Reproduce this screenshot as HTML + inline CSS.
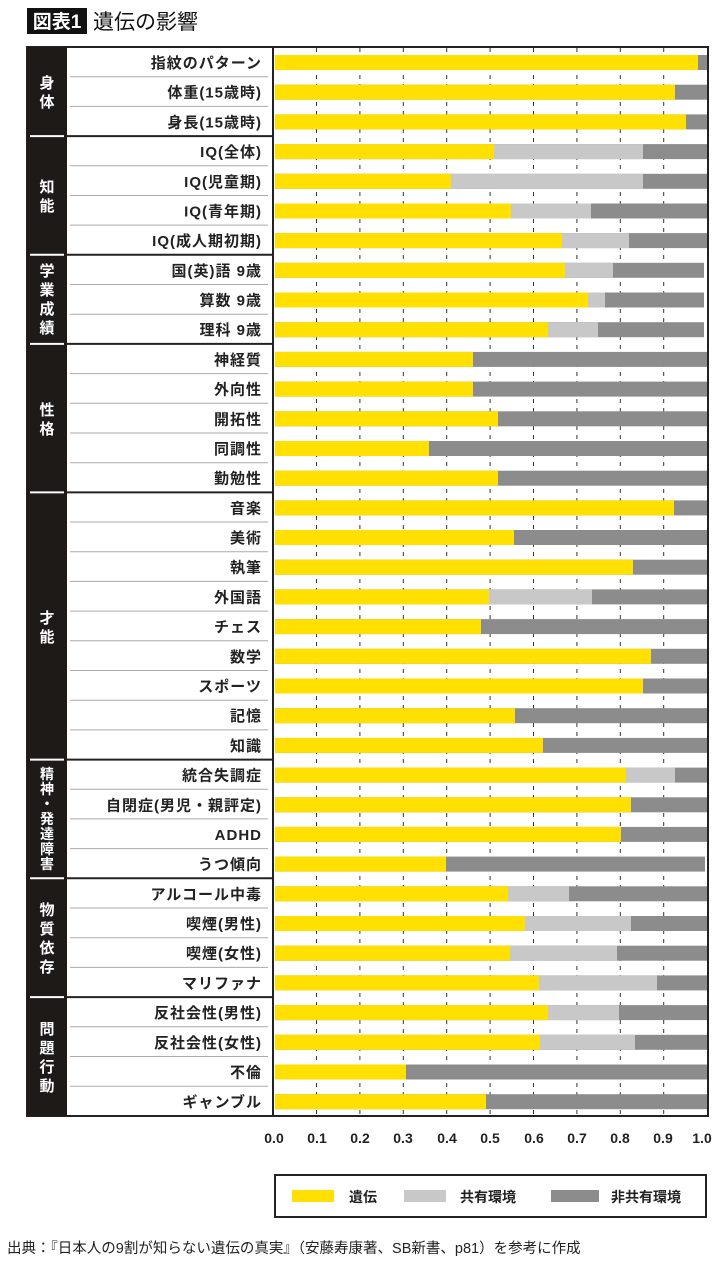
<!DOCTYPE html>
<html><head><meta charset="utf-8"><style>
body{margin:0;background:#fff;width:720px;height:1262px;overflow:hidden}
svg{display:block}
text{font-family:"Liberation Sans","Noto Sans CJK JP",sans-serif}
.l{font-size:15px;fill:#222;text-anchor:end;font-weight:bold;letter-spacing:1px}
.c{font-size:15px;fill:#fff;text-anchor:middle;font-weight:bold}
.c2{font-size:14px;fill:#fff;text-anchor:middle;font-weight:bold}
.t{font-size:14px;fill:#222;text-anchor:middle;font-weight:bold}
</style></head><body>
<svg width="720" height="1262" viewBox="0 0 720 1262">
<rect x="27" y="8" width="60" height="26" fill="#111"/>
<text x="57" y="28" font-size="19" font-weight="bold" fill="#fff" text-anchor="middle">図表1</text>
<text x="93" y="29" font-size="21" fill="#111">遺伝の影響</text>
<rect x="27" y="47" width="681" height="1069" fill="#fff" stroke="#222" stroke-width="2"/>
<rect x="27" y="47" width="40" height="1069" fill="#1e1a18"/>
<line x1="273" y1="47" x2="273" y2="1116" stroke="#222" stroke-width="2"/>
<g stroke="#333" stroke-width="1" stroke-dasharray="4,5">
<line x1="316.5" y1="48" x2="316.5" y2="1115"/><line x1="359.9" y1="48" x2="359.9" y2="1115"/><line x1="403.3" y1="48" x2="403.3" y2="1115"/><line x1="446.7" y1="48" x2="446.7" y2="1115"/><line x1="490.1" y1="48" x2="490.1" y2="1115"/><line x1="533.5" y1="48" x2="533.5" y2="1115"/><line x1="576.9" y1="48" x2="576.9" y2="1115"/><line x1="620.3" y1="48" x2="620.3" y2="1115"/><line x1="663.7" y1="48" x2="663.7" y2="1115"/>
</g>
<g stroke="#aaa" stroke-width="1">
<line x1="70" y1="76.7" x2="268" y2="76.7"/><line x1="70" y1="106.4" x2="268" y2="106.4"/>
<line x1="70" y1="165.8" x2="268" y2="165.8"/><line x1="70" y1="195.5" x2="268" y2="195.5"/><line x1="70" y1="225.1" x2="268" y2="225.1"/>
<line x1="70" y1="284.5" x2="268" y2="284.5"/><line x1="70" y1="314.2" x2="268" y2="314.2"/>
<line x1="70" y1="373.6" x2="268" y2="373.6"/><line x1="70" y1="403.3" x2="268" y2="403.3"/><line x1="70" y1="433" x2="268" y2="433"/><line x1="70" y1="462.7" x2="268" y2="462.7"/>
<line x1="70" y1="522" x2="268" y2="522"/><line x1="70" y1="551.7" x2="268" y2="551.7"/><line x1="70" y1="581.4" x2="268" y2="581.4"/><line x1="70" y1="611.1" x2="268" y2="611.1"/><line x1="70" y1="640.8" x2="268" y2="640.8"/><line x1="70" y1="670.5" x2="268" y2="670.5"/><line x1="70" y1="700.2" x2="268" y2="700.2"/><line x1="70" y1="729.9" x2="268" y2="729.9"/>
<line x1="70" y1="789.3" x2="268" y2="789.3"/><line x1="70" y1="818.9" x2="268" y2="818.9"/><line x1="70" y1="848.6" x2="268" y2="848.6"/>
<line x1="70" y1="908" x2="268" y2="908"/><line x1="70" y1="937.7" x2="268" y2="937.7"/><line x1="70" y1="967.4" x2="268" y2="967.4"/>
<line x1="70" y1="1026.8" x2="268" y2="1026.8"/><line x1="70" y1="1056.5" x2="268" y2="1056.5"/><line x1="70" y1="1086.2" x2="268" y2="1086.2"/>
</g>
<g stroke-width="2">
<line x1="30" y1="136.1" x2="64" y2="136.1" stroke="#fff"/><line x1="67" y1="136.1" x2="273" y2="136.1" stroke="#222"/>
<line x1="30" y1="254.8" x2="64" y2="254.8" stroke="#fff"/><line x1="67" y1="254.8" x2="273" y2="254.8" stroke="#222"/>
<line x1="30" y1="343.9" x2="64" y2="343.9" stroke="#fff"/><line x1="67" y1="343.9" x2="273" y2="343.9" stroke="#222"/>
<line x1="30" y1="492.4" x2="64" y2="492.4" stroke="#fff"/><line x1="67" y1="492.4" x2="273" y2="492.4" stroke="#222"/>
<line x1="30" y1="759.6" x2="64" y2="759.6" stroke="#fff"/><line x1="67" y1="759.6" x2="273" y2="759.6" stroke="#222"/>
<line x1="30" y1="878.3" x2="64" y2="878.3" stroke="#fff"/><line x1="67" y1="878.3" x2="273" y2="878.3" stroke="#222"/>
<line x1="30" y1="997.1" x2="64" y2="997.1" stroke="#fff"/><line x1="67" y1="997.1" x2="273" y2="997.1" stroke="#222"/>
</g>
<text class="c" x="47" y="88">身</text><text class="c" x="47" y="107">体</text>
<text class="c" x="47" y="192">知</text><text class="c" x="47" y="211">能</text>
<text class="c" x="47" y="276">学</text><text class="c" x="47" y="295">業</text><text class="c" x="47" y="314">成</text><text class="c" x="47" y="333">績</text>
<text class="c" x="47" y="415">性</text><text class="c" x="47" y="434">格</text>
<text class="c" x="47" y="623">才</text><text class="c" x="47" y="642">能</text>
<text class="c2" x="47" y="779">精</text><text class="c2" x="47" y="794">神</text><text class="c2" x="47" y="809">・</text><text class="c2" x="47" y="824">発</text><text class="c2" x="47" y="839">達</text><text class="c2" x="47" y="854">障</text><text class="c2" x="47" y="869">害</text>
<text class="c" x="47" y="915">物</text><text class="c" x="47" y="934">質</text><text class="c" x="47" y="953">依</text><text class="c" x="47" y="972">存</text>
<text class="c" x="47" y="1034">問</text><text class="c" x="47" y="1053">題</text><text class="c" x="47" y="1072">行</text><text class="c" x="47" y="1091">動</text>
<g>
<g transform="translate(0,47)"><text class="l" x="262" y="21">指紋のパターン</text><rect x="275" y="8" width="432" height="15" fill="#8c8c8c"/><rect x="275" y="8" width="423" height="15" fill="#FFE000"/></g>
<g transform="translate(0,76.7)"><text class="l" x="262" y="21">体重(15歳時)</text><rect x="275" y="8" width="432" height="15" fill="#8c8c8c"/><rect x="275" y="8" width="400" height="15" fill="#FFE000"/></g>
<g transform="translate(0,106.4)"><text class="l" x="262" y="21">身長(15歳時)</text><rect x="275" y="8" width="432" height="15" fill="#8c8c8c"/><rect x="275" y="8" width="411" height="15" fill="#FFE000"/></g>
<g transform="translate(0,136.1)"><text class="l" x="262" y="21">IQ(全体)</text><rect x="275" y="8" width="432" height="15" fill="#8c8c8c"/><rect x="275" y="8" width="368" height="15" fill="#c8c8c8"/><rect x="275" y="8" width="219" height="15" fill="#FFE000"/></g>
<g transform="translate(0,165.8)"><text class="l" x="262" y="21">IQ(児童期)</text><rect x="275" y="8" width="432" height="15" fill="#8c8c8c"/><rect x="275" y="8" width="368" height="15" fill="#c8c8c8"/><rect x="275" y="8" width="176" height="15" fill="#FFE000"/></g>
<g transform="translate(0,195.5)"><text class="l" x="262" y="21">IQ(青年期)</text><rect x="275" y="8" width="432" height="15" fill="#8c8c8c"/><rect x="275" y="8" width="316" height="15" fill="#c8c8c8"/><rect x="275" y="8" width="236" height="15" fill="#FFE000"/></g>
<g transform="translate(0,225.1)"><text class="l" x="262" y="21">IQ(成人期初期)</text><rect x="275" y="8" width="432" height="15" fill="#8c8c8c"/><rect x="275" y="8" width="354" height="15" fill="#c8c8c8"/><rect x="275" y="8" width="287" height="15" fill="#FFE000"/></g>
<g transform="translate(0,254.8)"><text class="l" x="262" y="21">国(英)語 9歳</text><rect x="275" y="8" width="429" height="15" fill="#8c8c8c"/><rect x="275" y="8" width="338" height="15" fill="#c8c8c8"/><rect x="275" y="8" width="290" height="15" fill="#FFE000"/></g>
<g transform="translate(0,284.5)"><text class="l" x="262" y="21">算数 9歳</text><rect x="275" y="8" width="429" height="15" fill="#8c8c8c"/><rect x="275" y="8" width="330" height="15" fill="#c8c8c8"/><rect x="275" y="8" width="313" height="15" fill="#FFE000"/></g>
<g transform="translate(0,314.2)"><text class="l" x="262" y="21">理科 9歳</text><rect x="275" y="8" width="429" height="15" fill="#8c8c8c"/><rect x="275" y="8" width="323" height="15" fill="#c8c8c8"/><rect x="275" y="8" width="273" height="15" fill="#FFE000"/></g>
<g transform="translate(0,343.9)"><text class="l" x="262" y="21">神経質</text><rect x="275" y="8" width="432" height="15" fill="#8c8c8c"/><rect x="275" y="8" width="198" height="15" fill="#FFE000"/></g>
<g transform="translate(0,373.6)"><text class="l" x="262" y="21">外向性</text><rect x="275" y="8" width="432" height="15" fill="#8c8c8c"/><rect x="275" y="8" width="198" height="15" fill="#FFE000"/></g>
<g transform="translate(0,403.3)"><text class="l" x="262" y="21">開拓性</text><rect x="275" y="8" width="432" height="15" fill="#8c8c8c"/><rect x="275" y="8" width="223" height="15" fill="#FFE000"/></g>
<g transform="translate(0,433)"><text class="l" x="262" y="21">同調性</text><rect x="275" y="8" width="432" height="15" fill="#8c8c8c"/><rect x="275" y="8" width="154" height="15" fill="#FFE000"/></g>
<g transform="translate(0,462.7)"><text class="l" x="262" y="21">勤勉性</text><rect x="275" y="8" width="432" height="15" fill="#8c8c8c"/><rect x="275" y="8" width="223" height="15" fill="#FFE000"/></g>
<g transform="translate(0,492.4)"><text class="l" x="262" y="21">音楽</text><rect x="275" y="8" width="432" height="15" fill="#8c8c8c"/><rect x="275" y="8" width="399" height="15" fill="#FFE000"/></g>
<g transform="translate(0,522)"><text class="l" x="262" y="21">美術</text><rect x="275" y="8" width="432" height="15" fill="#8c8c8c"/><rect x="275" y="8" width="239" height="15" fill="#FFE000"/></g>
<g transform="translate(0,551.7)"><text class="l" x="262" y="21">執筆</text><rect x="275" y="8" width="432" height="15" fill="#8c8c8c"/><rect x="275" y="8" width="358" height="15" fill="#FFE000"/></g>
<g transform="translate(0,581.4)"><text class="l" x="262" y="21">外国語</text><rect x="275" y="8" width="432" height="15" fill="#8c8c8c"/><rect x="275" y="8" width="317" height="15" fill="#c8c8c8"/><rect x="275" y="8" width="214" height="15" fill="#FFE000"/></g>
<g transform="translate(0,611.1)"><text class="l" x="262" y="21">チェス</text><rect x="275" y="8" width="432" height="15" fill="#8c8c8c"/><rect x="275" y="8" width="206" height="15" fill="#FFE000"/></g>
<g transform="translate(0,640.8)"><text class="l" x="262" y="21">数学</text><rect x="275" y="8" width="432" height="15" fill="#8c8c8c"/><rect x="275" y="8" width="376" height="15" fill="#FFE000"/></g>
<g transform="translate(0,670.5)"><text class="l" x="262" y="21">スポーツ</text><rect x="275" y="8" width="432" height="15" fill="#8c8c8c"/><rect x="275" y="8" width="368" height="15" fill="#FFE000"/></g>
<g transform="translate(0,700.2)"><text class="l" x="262" y="21">記憶</text><rect x="275" y="8" width="432" height="15" fill="#8c8c8c"/><rect x="275" y="8" width="240" height="15" fill="#FFE000"/></g>
<g transform="translate(0,729.9)"><text class="l" x="262" y="21">知識</text><rect x="275" y="8" width="432" height="15" fill="#8c8c8c"/><rect x="275" y="8" width="268" height="15" fill="#FFE000"/></g>
<g transform="translate(0,759.6)"><text class="l" x="262" y="21">統合失調症</text><rect x="275" y="8" width="432" height="15" fill="#8c8c8c"/><rect x="275" y="8" width="400" height="15" fill="#c8c8c8"/><rect x="275" y="8" width="351" height="15" fill="#FFE000"/></g>
<g transform="translate(0,789.3)"><text class="l" x="262" y="21">自閉症(男児・親評定)</text><rect x="275" y="8" width="432" height="15" fill="#8c8c8c"/><rect x="275" y="8" width="356" height="15" fill="#FFE000"/></g>
<g transform="translate(0,818.9)"><text class="l" x="262" y="21">ADHD</text><rect x="275" y="8" width="432" height="15" fill="#8c8c8c"/><rect x="275" y="8" width="346" height="15" fill="#FFE000"/></g>
<g transform="translate(0,848.6)"><text class="l" x="262" y="21">うつ傾向</text><rect x="275" y="8" width="430" height="15" fill="#8c8c8c"/><rect x="275" y="8" width="171" height="15" fill="#FFE000"/></g>
<g transform="translate(0,878.3)"><text class="l" x="262" y="21">アルコール中毒</text><rect x="275" y="8" width="432" height="15" fill="#8c8c8c"/><rect x="275" y="8" width="294" height="15" fill="#c8c8c8"/><rect x="275" y="8" width="233" height="15" fill="#FFE000"/></g>
<g transform="translate(0,908)"><text class="l" x="262" y="21">喫煙(男性)</text><rect x="275" y="8" width="432" height="15" fill="#8c8c8c"/><rect x="275" y="8" width="356" height="15" fill="#c8c8c8"/><rect x="275" y="8" width="250" height="15" fill="#FFE000"/></g>
<g transform="translate(0,937.7)"><text class="l" x="262" y="21">喫煙(女性)</text><rect x="275" y="8" width="432" height="15" fill="#8c8c8c"/><rect x="275" y="8" width="342" height="15" fill="#c8c8c8"/><rect x="275" y="8" width="235" height="15" fill="#FFE000"/></g>
<g transform="translate(0,967.4)"><text class="l" x="262" y="21">マリファナ</text><rect x="275" y="8" width="432" height="15" fill="#8c8c8c"/><rect x="275" y="8" width="382" height="15" fill="#c8c8c8"/><rect x="275" y="8" width="264" height="15" fill="#FFE000"/></g>
<g transform="translate(0,997.1)"><text class="l" x="262" y="21">反社会性(男性)</text><rect x="275" y="8" width="432" height="15" fill="#8c8c8c"/><rect x="275" y="8" width="344" height="15" fill="#c8c8c8"/><rect x="275" y="8" width="273" height="15" fill="#FFE000"/></g>
<g transform="translate(0,1026.8)"><text class="l" x="262" y="21">反社会性(女性)</text><rect x="275" y="8" width="432" height="15" fill="#8c8c8c"/><rect x="275" y="8" width="360" height="15" fill="#c8c8c8"/><rect x="275" y="8" width="265" height="15" fill="#FFE000"/></g>
<g transform="translate(0,1056.5)"><text class="l" x="262" y="21">不倫</text><rect x="275" y="8" width="432" height="15" fill="#8c8c8c"/><rect x="275" y="8" width="131" height="15" fill="#FFE000"/></g>
<g transform="translate(0,1086.2)"><text class="l" x="262" y="21">ギャンブル</text><rect x="275" y="8" width="432" height="15" fill="#8c8c8c"/><rect x="275" y="8" width="211" height="15" fill="#FFE000"/></g>
</g>
<g>
<text class="t" x="274" y="1143">0.0</text><text class="t" x="317" y="1143">0.1</text><text class="t" x="360" y="1143">0.2</text><text class="t" x="403" y="1143">0.3</text><text class="t" x="447" y="1143">0.4</text><text class="t" x="490" y="1143">0.5</text><text class="t" x="534" y="1143">0.6</text><text class="t" x="577" y="1143">0.7</text><text class="t" x="620" y="1143">0.8</text><text class="t" x="663" y="1143">0.9</text><text class="t" x="702" y="1143">1.0</text>
</g>
<rect x="275" y="1175" width="431" height="42" fill="#fff" stroke="#222" stroke-width="2"/>
<rect x="292" y="1190" width="42" height="12" fill="#FFE000"/>
<text x="349" y="1202" font-size="14" font-weight="bold" fill="#222">遺伝</text>
<rect x="404" y="1190" width="42" height="12" fill="#c8c8c8"/>
<text x="460" y="1202" font-size="14" font-weight="bold" fill="#222">共有環境</text>
<rect x="551" y="1190" width="48" height="12" fill="#8c8c8c"/>
<text x="611" y="1202" font-size="14" font-weight="bold" fill="#222">非共有環境</text>
<text x="7" y="1253" font-size="14.5" fill="#222">出典：『日本人の9割が知らない遺伝の真実』（安藤寿康著、SB新書、p81）を参考に作成</text>
</svg>
</body></html>
